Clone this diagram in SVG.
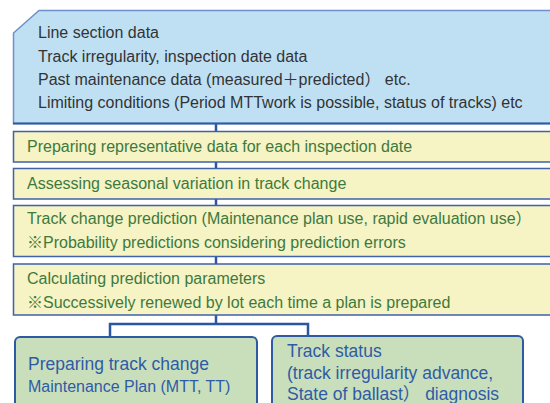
<svg xmlns="http://www.w3.org/2000/svg" width="550" height="403" viewBox="0 0 550 403">
<style>
text{font-family:"Liberation Sans","Noto Sans CJK JP",Arial,sans-serif;font-size:16px}
.dk{fill:#333333}
.gr{fill:#3d7a3d}
.bl{fill:#2f5ba6;font-size:17.5px}
.sm{font-size:16px}
.yb{fill:#f6f3c5;stroke:#3f62a8;stroke-width:1.5}
.gb{fill:#c9dfbb;stroke:#2e59a3;stroke-width:2}
.cn{fill:none;stroke:#2b56a3;stroke-width:2.5}
</style>
<g id="connectors">
<line class="cn" x1="216" y1="122" x2="216" y2="324"/>
<polyline class="cn" points="110,338 110,324 308,324 308,338"/>
</g>
<g id="inputs">
<polygon points="13.5,33 39,10.5 552,10.5 552,123.5 13.5,123.5" fill="#bfe0f3" stroke="#6f90cc" stroke-width="1.5"/>
<line x1="13" y1="123.5" x2="552" y2="123.5" stroke="#2e5aa3" stroke-width="2"/>
<text class="dk" x="38" y="38">Line section data</text>
<text class="dk" x="38" y="62">Track irregularity, inspection date data</text>
<text class="dk" x="38" y="85">Past maintenance data (measured＋predicted） etc.</text>
<text class="dk" x="38" y="108">Limiting conditions (Period MTTwork is possible, status of tracks) etc</text>
</g>
<g id="step1">
<rect class="yb" x="13.5" y="131.5" width="540" height="30.5"/>
<text class="gr" x="27" y="152">Preparing representative data for each inspection date</text>
</g>
<g id="step2">
<rect class="yb" x="13.5" y="168.5" width="540" height="30.5"/>
<text class="gr" x="27" y="189">Assessing seasonal variation in track change</text>
</g>
<g id="step3">
<rect class="yb" x="13.5" y="205.5" width="540" height="51"/>
<text class="gr" x="27" y="224">Track change prediction (Maintenance plan use, rapid evaluation use）</text>
<text class="gr" x="27" y="248">※Probability predictions considering prediction errors</text>
</g>
<g id="step4">
<rect class="yb" x="13.5" y="264" width="540" height="51"/>
<text class="gr" x="27" y="284">Calculating prediction parameters</text>
<text class="gr" x="27" y="308">※Successively renewed by lot each time a plan is prepared</text>
</g>
<g id="plan">
<rect class="gb" x="15" y="337" width="242" height="80" rx="5"/>
<text class="bl" x="28" y="370">Preparing track change</text>
<text class="bl sm" x="28" y="392">Maintenance Plan (MTT, TT)</text>
</g>
<g id="status">
<rect class="gb" x="272" y="336" width="251" height="80" rx="5"/>
<text class="bl" x="287" y="357">Track status</text>
<text class="bl" x="287" y="379">(track irregularity advance,</text>
<text class="bl" x="287" y="400">State of ballast） diagnosis</text>
</g>
</svg>
